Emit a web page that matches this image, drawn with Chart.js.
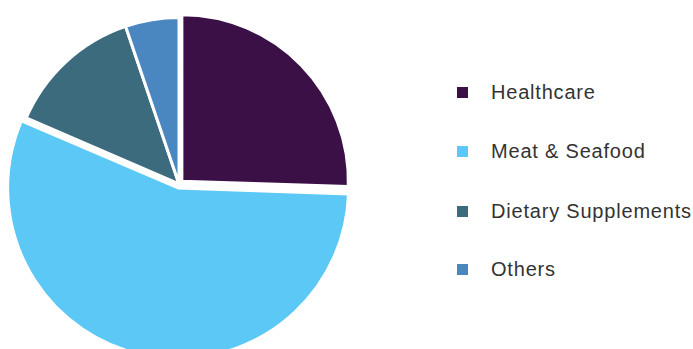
<!DOCTYPE html>
<html>
<head>
<meta charset="utf-8">
<script src="https://cdn.jsdelivr.net/npm/chart.js@4"></script>
<style>
    html, body { margin: 0; padding: 0; background: #fff; overflow: hidden; width: 693px; height: 349px; }
    #pieWrap { position: absolute; left: 3px; top: 8px; width: 352px; height: 352px; }
    #legend { position: absolute; left: 457px; top: 0; font-family: "Liberation Sans", Arial, sans-serif; font-size: 20px; letter-spacing: 0.8px; color: #333; }
    .item { position: absolute; left: 0; white-space: nowrap; display: flex; align-items: center; }
    .box { width: 11px; height: 11px; margin-right: 23px; }
</style>
</head>
<body>
<div id="pieWrap"><canvas id="pieChart"></canvas></div>
<div id="legend"></div>
<script>
// segment shares (%)
const categories = ['Healthcare', 'Meat & Seafood', 'Dietary Supplements', 'Others'];
const shares = [25.5, 56.0, 13.3, 5.2];
const colors = ['#3a1046', '#5bc8f5', '#3d6b7e', '#4a86c0'];
const offsets = [16, 16, 0, 0];

const ctx = document.getElementById('pieChart');

new Chart(ctx, {
    type: 'pie',
    data: {
        labels: categories,
        datasets: [{
            data: shares,
            backgroundColor: colors,
            borderColor: '#ffffff',
            borderWidth: 3,
            offset: offsets
        }]
    },
    options: {
        responsive: true,
        maintainAspectRatio: false,
        animation: false,
        layout: { padding: 0 },
        plugins: {
            legend: { display: false },
            tooltip: { enabled: false }
        }
    }
});

// html legend on the right
const legend = document.getElementById('legend');
const rowTops = [93, 152, 212, 270];
categories.forEach((name, i) => {
    const item = document.createElement('div');
    item.className = 'item';
    item.style.top = (rowTops[i] - 12) + 'px';
    const box = document.createElement('span');
    box.className = 'box';
    box.style.background = colors[i];
    const label = document.createElement('span');
    label.textContent = name;
    item.appendChild(box);
    item.appendChild(label);
    legend.appendChild(item);
});
</script>
</body>
</html>
